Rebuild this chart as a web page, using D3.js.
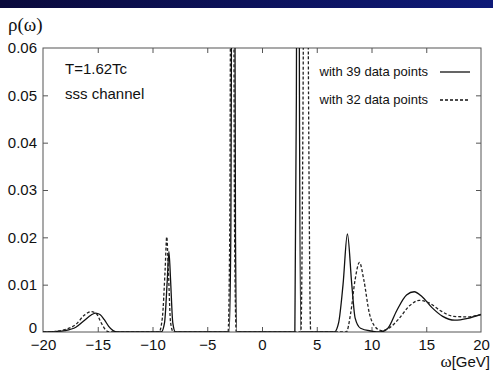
<!DOCTYPE html>
<html>
<head>
<meta charset="utf-8">
<script src="https://cdn.jsdelivr.net/npm/d3@7"></script>
<style>
body{margin:0;background:#fff;}
svg{display:block;}
text{font-family:"Liberation Sans",Arial,sans-serif;fill:#111;}
</style>
</head>
<body>
<div id="chart"></div>
<script>
const xTicks = [-20, -15, -10, -5, 0, 5, 10, 15, 20];
const yTicks = [0, 0.01, 0.02, 0.03, 0.04, 0.05, 0.06];

// spectral function, [omega, rho]
const with39 = [
  [-20,0],[-19,0.0001],[-18,0.0003],[-17,0.001],[-16.2,0.0025],[-15.6,0.0036],[-15.2,0.004],
  [-14.8,0.0037],[-14.4,0.0026],[-14,0.0012],[-13.6,0.0003],[-13.2,0],
  [-9.2,0],[-8.9,0.002],[-8.65,0.011],[-8.5,0.017],[-8.35,0.011],[-8.15,0.002],[-7.9,0],
  [-3,0],[-2.85,0.02],[-2.63,0.2],[-2.42,0.02],[-2.3,0],
  [3.0,0],[3.14,0.05],[3.28,0.2],[3.42,0.05],[3.55,0],
  [6.6,0],[7.0,0.002],[7.4,0.01],[7.8,0.0207],[8.2,0.01],[8.5,0.003],[9,0.0008],[10,0.0002],
  [10.8,0],[11.5,0.0008],[12.3,0.0045],[13.2,0.0078],[13.9,0.0085],[14.6,0.0075],[15.5,0.0052],
  [16.5,0.0033],[17.6,0.0025],[18.8,0.0029],[20,0.0037]
];
const with32 = [
  [-20,0],[-19,0.0001],[-18,0.0005],[-17,0.0016],[-16.2,0.0036],[-15.6,0.0043],[-15.1,0.0038],
  [-14.7,0.002],[-14.3,0.0005],[-13.9,0],
  [-9.4,0],[-9.1,0.003],[-8.85,0.013],[-8.7,0.0201],[-8.55,0.013],[-8.35,0.002],[-8.1,0],
  [-3.1,0],[-2.95,0.02],[-2.72,0.2],[-2.5,0.02],[-2.35,0],
  [3.55,0],[3.75,0.05],[4.0,0.2],[4.25,0.05],[4.45,0],
  [7.7,0],[8.1,0.004],[8.5,0.011],[8.9,0.0147],[9.3,0.011],[9.8,0.004],[10.3,0.0012],[10.9,0.0003],
  [11.6,0.0008],[12.5,0.0028],[13.5,0.0056],[14.4,0.0067],[15.3,0.0061],[16.3,0.0045],
  [17.5,0.0033],[18.8,0.0032],[20,0.0037]
];

const W = 493, H = 372;
const m = {left:43, right:12, top:48, bottom:40};

const svg = d3.select('#chart').append('svg')
  .attr('width', W).attr('height', H);

// slide header band
const defs = svg.append('defs');
const grad = defs.append('linearGradient').attr('id','band');
grad.append('stop').attr('offset','0%').attr('stop-color','#0a0a3c');
grad.append('stop').attr('offset','100%').attr('stop-color','#0e1a78');
svg.append('rect').attr('x',0).attr('y',0).attr('width',W).attr('height',8).attr('fill','url(#band)');

defs.append('clipPath').attr('id','clip')
  .append('rect').attr('x',m.left).attr('y',m.top)
  .attr('width',W-m.left-m.right).attr('height',H-m.top-m.bottom);

const x = d3.scaleLinear().domain([-20,20]).range([m.left, W-m.right]);
const y = d3.scaleLinear().domain([0,0.06]).range([H-m.bottom, m.top]);

const frame = '#555';
svg.append('rect')
  .attr('x',x(-20)).attr('y',y(0.06))
  .attr('width',x(20)-x(-20)).attr('height',y(0)-y(0.06))
  .attr('fill','none').attr('stroke',frame).attr('stroke-width',1);

const gBottom = svg.append('g').attr('transform',`translate(0,${y(0)})`)
  .call(d3.axisBottom(x).tickValues(xTicks).tickSize(-5).tickPadding(7)
    .tickFormat(d=>d<0 ? '\u2212'+Math.abs(d) : d));
const gTop = svg.append('g').attr('transform',`translate(0,${y(0.06)})`)
  .call(d3.axisTop(x).tickValues(xTicks).tickSize(-5).tickFormat(''));
const gLeft = svg.append('g').attr('transform',`translate(${x(-20)},0)`)
  .call(d3.axisLeft(y).tickValues(yTicks).tickSize(-5).tickPadding(6)
    .tickFormat(d=>d===0 ? '0' : d3.format('.2f')(d)));
const gRight = svg.append('g').attr('transform',`translate(${x(20)},0)`)
  .call(d3.axisRight(y).tickValues(yTicks).tickSize(-5).tickFormat(''));

[gBottom, gTop, gLeft, gRight].forEach(g=>{
  g.select('.domain').remove();
  g.selectAll('.tick line').attr('stroke',frame);
  g.selectAll('.tick text').attr('font-size',15).attr('fill','#111')
    .attr('font-family','"Liberation Sans",Arial,sans-serif');
});
gBottom.selectAll('.tick').filter(d=>d===-20||d===20).select('line').remove();
gTop.selectAll('.tick').filter(d=>d===-20||d===20).select('line').remove();
gLeft.selectAll('.tick').filter(d=>d===0||d===0.06).select('line').remove();
gRight.selectAll('.tick').filter(d=>d===0||d===0.06).select('line').remove();
// lift the zero label a little so it clears the -20 below it
gLeft.selectAll('.tick').filter(d=>d===0).select('text').attr('y',-4);

const line = d3.line()
  .curve(d3.curveMonotoneX)
  .x(d=>x(d[0]))
  .y(d=>y(d[1]));

const plot = svg.append('g').attr('clip-path','url(#clip)');
plot.append('path').attr('d', line(with39))
  .attr('fill','none').attr('stroke','#111').attr('stroke-width',1.3);
plot.append('path').attr('d', line(with32))
  .attr('fill','none').attr('stroke','#222').attr('stroke-width',1.3)
  .attr('stroke-dasharray','3,2');

// labels
svg.append('text').attr('x',8).attr('y',31)
  .style('font-family','"Liberation Serif","Times New Roman",serif')
  .attr('font-size',19).text('\u03c1(\u03c9)');

const xl = svg.append('text').attr('x',490).attr('y',367).attr('text-anchor','end')
  .attr('font-size',15);
xl.append('tspan').style('font-family','"Liberation Serif",serif').attr('font-size',17).text('\u03c9');
xl.append('tspan').text('[GeV]');

svg.append('text').attr('x',65).attr('y',74).attr('font-size',15).text('T=1.62Tc');
svg.append('text').attr('x',65).attr('y',99).attr('font-size',15).text('sss channel');

const legend = [
  {label:'with 39 data points', dash:null, yy:76},
  {label:'with 32 data points', dash:'3,2', yy:104}
];
legend.forEach(l=>{
  svg.append('text').attr('x',428).attr('y',l.yy).attr('text-anchor','end')
    .attr('font-size',13).text(l.label);
  svg.append('line').attr('x1',440).attr('x2',470).attr('y1',l.yy-4).attr('y2',l.yy-4)
    .attr('stroke','#111').attr('stroke-width',1.3)
    .attr('stroke-dasharray',l.dash);
});
</script>
</body>
</html>
